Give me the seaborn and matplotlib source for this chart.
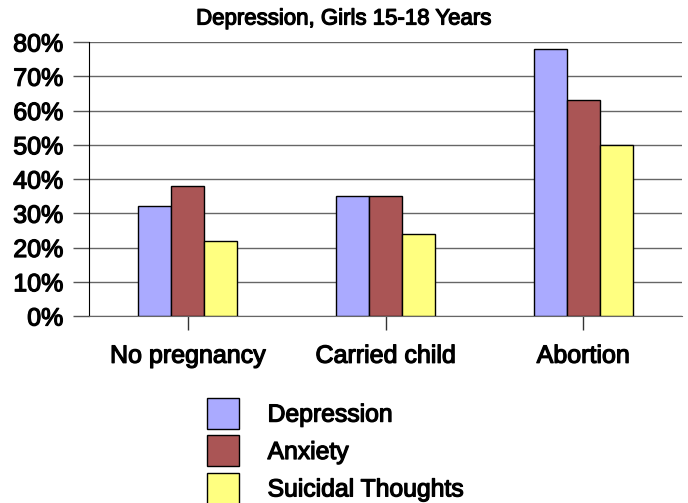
import matplotlib
matplotlib.use("Agg")
import matplotlib.pyplot as plt
import matplotlib.patheffects as pe
import seaborn as sns
import pandas as pd
from matplotlib.ticker import PercentFormatter

# data
groups = ["No pregnancy", "Carried child", "Abortion"]
depression = [32, 35, 78]
anxiety = [38, 35, 63]
suicidal = [22, 24, 50]
series_names = ["Depression", "Anxiety", "Suicidal Thoughts"]
colors = ["#AAAAFF", "#AA5555", "#FFFF80"]
y_ticks = [0, 10, 20, 30, 40, 50, 60, 70, 80]

rows = []
for name, vals in zip(series_names, [depression, anxiety, suicidal]):
    for g, v in zip(groups, vals):
        rows.append({"group": g, "series": name, "value": v})
df = pd.DataFrame(rows)

sns.set_style("white")
plt.rcParams["font.family"] = ["Liberation Sans", "DejaVu Sans"]
plt.rcParams["text.color"] = "black"
plt.rcParams["xtick.color"] = "black"
plt.rcParams["ytick.color"] = "black"

# slightly heavier text, like the original rendering
heavy = [pe.withStroke(linewidth=0.9, foreground="black")]

fig = plt.figure(figsize=(6.88, 5.03), dpi=100)
ax = fig.add_axes([89 / 688, 1 - 316 / 503, 593 / 688, 274 / 503])

sns.barplot(data=df, x="group", y="value", hue="series", palette=colors,
            width=0.5, edgecolor="black", linewidth=1, saturation=1,
            ax=ax, zorder=3)

ax.set_ylim(0, 80)
ax.set_xlim(-0.5, 2.5)
ax.set_yticks(y_ticks)
ax.yaxis.set_major_formatter(PercentFormatter(decimals=0))
ax.yaxis.grid(True, color="#666666", linewidth=1, zorder=0)
ax.set_xlabel("")
ax.set_ylabel("")
for s in ["top", "right"]:
    ax.spines[s].set_visible(False)
ax.spines["left"].set_color("black")
ax.spines["bottom"].set_color("#666666")
ax.tick_params(axis="x", bottom=True, labelsize=18, length=10, width=1,
               color="#333333", direction="out", pad=10)
ax.tick_params(axis="y", left=True, labelsize=18, length=11.5, width=1,
               color="#555555", direction="out", pad=7)
for lab in ax.get_xticklabels() + ax.get_yticklabels():
    lab.set_path_effects(heavy)

handles, labels = ax.get_legend_handles_labels()
ax.get_legend().remove()
leg = fig.legend(handles, labels, loc="upper left",
                 bbox_to_anchor=(207 / 688, 1 - 398 / 503),
                 frameon=False, fontsize=17.8,
                 handlelength=1.3, handleheight=1.55,
                 handletextpad=1.15, labelspacing=0.26,
                 borderpad=0, borderaxespad=0)
for t in leg.get_texts():
    t.set_path_effects(heavy)

fig.text(0.5, 1 - 19 / 503, "Depression, Girls 15-18 Years",
         ha="center", va="center", fontsize=16, path_effects=heavy)

fig.savefig("out.png", dpi=100)
